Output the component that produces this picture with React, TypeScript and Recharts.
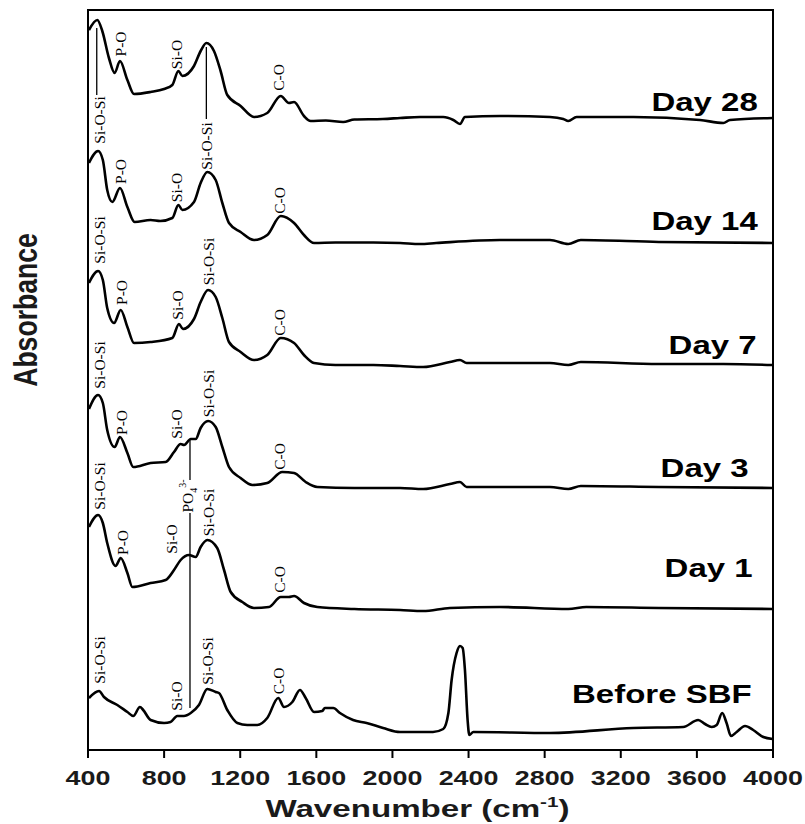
import React from 'react';
import { LineChart, Line, XAxis, YAxis, ReferenceArea, ReferenceLine, ReferenceDot } from 'recharts';

// X axis: wavenumber (cm-1); Y: absorbance (a.u., spectra stacked with offsets)
const wavenumberTicks = [400, 800, 1200, 1600, 2000, 2400, 2800, 3200, 3600, 4000];

const day28: [number, number][] = [
  [405, 7.2], [449, 7.3], [475, 7.19], [510, 6.92], [540, 6.77], [568, 6.89], [607, 6.7], [642, 6.56],
  [729, 6.58], [800, 6.61], [843, 6.65], [875, 6.79], [896, 6.74], [957, 6.84], [992, 6.99], [1022, 7.07],
  [1062, 6.99], [1097, 6.79], [1132, 6.55], [1202, 6.44], [1272, 6.33], [1342, 6.37], [1413, 6.54],
  [1456, 6.47], [1483, 6.48], [1535, 6.34], [1570, 6.29], [1650, 6.295], [1741, 6.28], [1800, 6.305],
  [1950, 6.31], [2040, 6.32], [2145, 6.33], [2267, 6.33], [2320, 6.3], [2355, 6.26], [2381, 6.33],
  [2565, 6.34], [2828, 6.33], [2898, 6.31], [2924, 6.29], [2968, 6.33], [3266, 6.33], [3616, 6.3],
  [3739, 6.27], [3774, 6.3], [3998, 6.32],
];

const day14: [number, number][] = [
  [405, 5.87], [453, 5.99], [478, 5.9], [501, 5.6], [528, 5.48], [568, 5.62], [607, 5.43], [645, 5.28],
  [729, 5.3], [780, 5.29], [843, 5.32], [875, 5.45], [896, 5.4], [957, 5.48], [992, 5.67], [1027, 5.78],
  [1071, 5.7], [1106, 5.47], [1141, 5.27], [1202, 5.18], [1272, 5.1], [1342, 5.15], [1413, 5.34],
  [1483, 5.27], [1535, 5.15], [1588, 5.07], [1700, 5.075], [1900, 5.075], [2040, 5.07], [2145, 5.06],
  [2230, 5.07], [2565, 5.1], [2828, 5.1], [2924, 5.06], [2990, 5.1], [3400, 5.08], [3998, 5.07],
];

const day7: [number, number][] = [
  [405, 4.67], [453, 4.79], [478, 4.7], [501, 4.42], [537, 4.27], [572, 4.4], [607, 4.23], [642, 4.07],
  [729, 4.08], [843, 4.12], [878, 4.26], [899, 4.21], [957, 4.31], [992, 4.48], [1031, 4.6], [1071, 4.53],
  [1106, 4.32], [1141, 4.08], [1202, 3.98], [1272, 3.9], [1342, 3.95], [1413, 4.12], [1483, 4.07],
  [1535, 3.95], [1588, 3.87], [1700, 3.85], [1900, 3.85], [2040, 3.84], [2161, 3.83], [2302, 3.88],
  [2355, 3.9], [2390, 3.87], [2828, 3.87], [2924, 3.85], [2990, 3.88], [3400, 3.86], [3739, 3.86],
  [3998, 3.85],
];

const day3: [number, number][] = [
  [405, 3.41], [453, 3.55], [478, 3.47], [501, 3.2], [540, 3.03], [568, 3.13], [607, 2.97], [638, 2.83],
  [729, 2.87], [808, 2.88], [852, 2.98], [887, 3.06], [905, 3.05], [940, 3.11], [966, 3.11], [992, 3.22],
  [1031, 3.29], [1071, 3.23], [1106, 3.03], [1141, 2.83], [1202, 2.72], [1264, 2.65], [1342, 2.67],
  [1421, 2.78], [1483, 2.77], [1544, 2.68], [1605, 2.63], [1800, 2.62], [2040, 2.62], [2161, 2.61],
  [2302, 2.66], [2355, 2.68], [2390, 2.63], [2828, 2.63], [2924, 2.61], [2990, 2.64], [3400, 2.63],
  [3998, 2.62],
];

const day1: [number, number][] = [
  [405, 2.23], [453, 2.35], [478, 2.27], [501, 2.07], [545, 1.84], [572, 1.92], [607, 1.77], [633, 1.63],
  [729, 1.67], [808, 1.7], [852, 1.8], [887, 1.9], [931, 1.95], [966, 1.93], [992, 2.03], [1027, 2.1],
  [1079, 2.02], [1115, 1.8], [1150, 1.58], [1211, 1.48], [1272, 1.42], [1351, 1.43], [1413, 1.53],
  [1456, 1.53], [1483, 1.54], [1535, 1.47], [1605, 1.43], [1800, 1.41], [2040, 1.4], [2161, 1.39],
  [2302, 1.42], [2565, 1.43], [2924, 1.41], [3019, 1.43], [3400, 1.42], [3998, 1.41],
];

const beforeSBF: [number, number][] = [
  [405, 0.52], [458, 0.59], [484, 0.53], [554, 0.45], [607, 0.38], [638, 0.34], [673, 0.43], [690, 0.4],
  [729, 0.3], [800, 0.27], [834, 0.28], [869, 0.34], [904, 0.34], [940, 0.37], [983, 0.45], [1027, 0.61],
  [1071, 0.58], [1088, 0.57], [1132, 0.4], [1185, 0.27], [1237, 0.25], [1290, 0.25], [1342, 0.32],
  [1400, 0.52], [1430, 0.43], [1474, 0.48], [1514, 0.6], [1544, 0.52], [1588, 0.38], [1631, 0.39],
  [1645, 0.42], [1689, 0.42], [1724, 0.37], [1793, 0.3], [1864, 0.27], [1951, 0.22], [2040, 0.18],
  [2213, 0.18], [2267, 0.21], [2294, 0.37], [2311, 0.7], [2337, 0.97], [2355, 1.04], [2369, 1.02],
  [2381, 0.8], [2395, 0.3], [2404, 0.15], [2425, 0.18], [2828, 0.17], [3266, 0.22], [3528, 0.23],
  [3607, 0.3], [3643, 0.26], [3678, 0.23], [3704, 0.25], [3733, 0.37], [3756, 0.27], [3779, 0.14],
  [3809, 0.18], [3853, 0.24], [3896, 0.2], [3949, 0.13], [3998, 0.11],
];

const spectra = [
  { name: 'Day 28', points: day28 },
  { name: 'Day 14', points: day14 },
  { name: 'Day 7', points: day7 },
  { name: 'Day 3', points: day3 },
  { name: 'Day 1', points: day1 },
  { name: 'Before SBF', points: beforeSBF },
];

// Curve names, pinned (right end / baseline) in data space
const curveLabels = [
  { text: 'Day 28', wn: 3920, a: 6.39 },
  { text: 'Day 14', wn: 3920, a: 5.2 },
  { text: 'Day 7', wn: 3914, a: 3.965 },
  { text: 'Day 3', wn: 3872, a: 2.73 },
  { text: 'Day 1', wn: 3893, a: 1.73 },
  { text: 'Before SBF', wn: 3888, a: 0.47 },
];

// Band assignments (rotated), centred in data space
const bandLabels = [
  { text: 'Si-O-Si', wn: 462, a: 6.3 },
  { text: 'P-O', wn: 572, a: 7.06 },
  { text: 'Si-O', wn: 866, a: 6.955 },
  { text: 'Si-O-Si', wn: 1024, a: 6.04 },
  { text: 'C-O', wn: 1405, a: 6.725 },
  { text: 'P-O', wn: 572, a: 5.785 },
  { text: 'Si-O', wn: 866, a: 5.625 },
  { text: 'C-O', wn: 1410, a: 5.495 },
  { text: 'Si-O-Si', wn: 462, a: 5.1 },
  { text: 'Si-O-Si', wn: 1034, a: 4.885 },
  { text: 'P-O', wn: 577, a: 4.575 },
  { text: 'Si-O', wn: 871, a: 4.45 },
  { text: 'C-O', wn: 1410, a: 4.275 },
  { text: 'Si-O-Si', wn: 462, a: 3.85 },
  { text: 'Si-O-Si', wn: 1034, a: 3.565 },
  { text: 'P-O', wn: 577, a: 3.275 },
  { text: 'Si-O', wn: 866, a: 3.26 },
  { text: 'C-O', wn: 1410, a: 2.935 },
  { text: 'Si-O-Si', wn: 462, a: 2.64 },
  { text: 'PO4', wn: 924, a: 2.54 },
  { text: 'Si-O-Si', wn: 1034, a: 2.375 },
  { text: 'P-O', wn: 582, a: 2.075 },
  { text: 'Si-O', wn: 840, a: 2.11 },
  { text: 'C-O', wn: 1410, a: 1.705 },
  { text: 'Si-O-Si', wn: 465, a: 0.9 },
  { text: 'Si-O', wn: 866, a: 0.54 },
  { text: 'Si-O-Si', wn: 1030, a: 0.89 },
  { text: 'C-O', wn: 1402, a: 0.69 },
];

// Thin vertical marker lines
const markerLines = [
  { wn: 446, a1: 7.22, a2: 6.55 },
  { wn: 1022, a1: 7.03, a2: 6.31 },
  { wn: 936, a1: 3.1, a2: 2.7 },
  { wn: 936, a1: 2.37, a2: 0.42 },
];

const SANS = "'Liberation Sans', Arial, Helvetica, sans-serif";
const SERIF = "'Liberation Serif', 'Times New Roman', serif";

const toPoints = (arr: [number, number][]) => arr.map(([wn, a]) => ({ wn, a }));

const WnTick = (props: any) => {
  const { x, y, payload } = props;
  return (
    <text
      transform={`translate(${x},${y + 25}) scale(1.38,1)`}
      textAnchor="middle"
      fontFamily={SANS}
      fontWeight="bold"
      fontSize={19.5}
      fill="#1a1a1a"
    >
      {payload.value}
    </text>
  );
};

const XTitle = (props: any) => {
  const vb = props.viewBox || { x: 88, y: 750, width: 685, height: 74 };
  const cx = vb.x + vb.width / 2 - 13;
  const by = vb.y + 67;
  return (
    <text
      transform={`translate(${cx},${by}) scale(1.38,1)`}
      textAnchor="middle"
      fontFamily={SANS}
      fontWeight="bold"
      fontSize={24}
      fill="#1a1a1a"
    >
      Wavenumber (cm
      <tspan fontSize={15} dy={-10}>-1</tspan>
      <tspan dy={10}>)</tspan>
    </text>
  );
};

const YTitle = (props: any) => {
  const vb = props.viewBox || { x: 0, y: 10, width: 88, height: 740 };
  const bx = vb.x + 37;
  const cy = vb.y + 300;
  return (
    <text
      transform={`translate(${bx},${cy}) scale(1.25,1) rotate(-90)`}
      textAnchor="middle"
      fontFamily={SANS}
      fontWeight="bold"
      fontSize={26.6}
      fill="#1a1a1a"
    >
      Absorbance
    </text>
  );
};

const bandShape = (text: string) => (p: any) => {
  if (text === 'PO4') {
    return (
      <text
        transform={`translate(${p.cx + 5},${p.cy}) rotate(-90)`}
        textAnchor="middle"
        fontFamily={SERIF}
        fontSize={15.5}
        fill="#000"
      >
        PO
        <tspan fontSize={10} dy={4}>4</tspan>
        <tspan fontSize={10} dy={-11}>3-</tspan>
      </text>
    );
  }
  return (
    <text
      transform={`translate(${p.cx + 5},${p.cy}) rotate(-90)`}
      textAnchor="middle"
      fontFamily={SERIF}
      fontSize={15.5}
      fill="#000"
    >
      {text}
    </text>
  );
};

const curveLabelShape = (text: string) => (p: any) => (
  <text
    transform={`translate(${p.cx},${p.cy}) scale(1.32,1)`}
    textAnchor="end"
    fontFamily={SANS}
    fontWeight="bold"
    fontSize={25}
    fill="#000"
  >
    {text}
  </text>
);

export default function App() {
  return (
    <div style={{ position: 'absolute', left: 0, top: 0, width: 805, height: 824, background: '#fff' }}>
      <LineChart width={805} height={824} margin={{ top: 10, right: 32, bottom: 0, left: 0 }}>
        <XAxis
          dataKey="wn"
          type="number"
          domain={[400, 4000]}
          ticks={wavenumberTicks}
          interval={0}
          allowDataOverflow
          height={74}
          tickSize={8}
          axisLine={{ stroke: '#000', strokeWidth: 2 }}
          tickLine={{ stroke: '#000', strokeWidth: 2 }}
          tick={(p: any) => <WnTick {...p} />}
          label={<XTitle />}
        />
        <YAxis
          type="number"
          domain={[0, 7.4]}
          allowDataOverflow
          width={88}
          tick={false}
          tickLine={false}
          axisLine={false}
          label={<YTitle />}
        />
        {spectra.map((s) => (
          <Line
            key={s.name}
            name={s.name}
            data={toPoints(s.points)}
            dataKey="a"
            type="monotone"
            stroke="#000"
            strokeWidth={2.6}
            dot={false}
            activeDot={false}
            isAnimationActive={false}
          />
        ))}
        {markerLines.map((m, i) => (
          <ReferenceLine
            key={`m${i}`}
            segment={[{ x: m.wn, y: m.a1 }, { x: m.wn, y: m.a2 }]}
            stroke="#000"
            strokeWidth={1.3}
            ifOverflow="visible"
          />
        ))}
        {bandLabels.map((b, i) => (
          <ReferenceDot
            key={`b${i}`}
            x={b.wn}
            y={b.a}
            r={0}
            ifOverflow="visible"
            shape={bandShape(b.text)}
          />
        ))}
        {curveLabels.map((c, i) => (
          <ReferenceDot
            key={`c${i}`}
            x={c.wn}
            y={c.a}
            r={0}
            ifOverflow="visible"
            shape={curveLabelShape(c.text)}
          />
        ))}
        <ReferenceArea
          x1={400}
          x2={4000}
          y1={0}
          y2={7.4}
          fill="none"
          fillOpacity={0}
          stroke="#000"
          strokeWidth={2}
          ifOverflow="visible"
        />
      </LineChart>
    </div>
  );
}
